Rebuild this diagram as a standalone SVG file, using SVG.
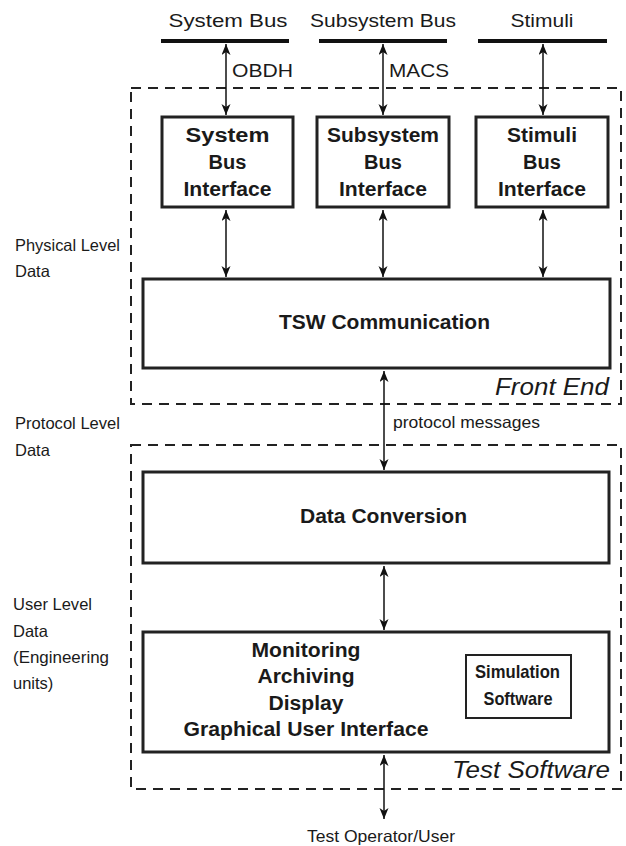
<svg xmlns="http://www.w3.org/2000/svg" width="626" height="846" viewBox="0 0 626 846">
<style>
  text { font-family: "Liberation Sans", Arial, sans-serif; fill: #1a1a1a; }
  .bus { stroke: #111; stroke-width: 4; }
  .lbl { font-size: 18.5px; }
  .side { font-size: 16.5px; }
  .small { font-size: 16.5px; }
  .b { font-size: 20px; font-weight: bold; text-anchor: middle; }
  .sim { font-size: 18.5px; font-weight: bold; text-anchor: middle; }
  .it { font-size: 23px; font-style: italic; text-anchor: end; }
  .mid { text-anchor: middle; }
  .box { fill: none; stroke: #222; stroke-width: 3; }
  .dash { fill: none; stroke: #222; stroke-width: 2; stroke-dasharray: 10 7; }
  .arr { stroke: #111; stroke-width: 1.5; fill: none; marker-start: url(#ah); marker-end: url(#ah); }
</style>
<defs>
  <marker id="ah" markerUnits="userSpaceOnUse" markerWidth="12" markerHeight="10" refX="11" refY="4.5" orient="auto-start-reverse">
    <path d="M0,0 L11,4.5 L0,9 L3,4.5 z" fill="#111"/>
  </marker>
</defs>

<g id="buses">
  <line class="bus" x1="161" y1="41" x2="289" y2="41"/>
  <line class="bus" x1="319" y1="41" x2="447" y2="41"/>
  <line class="bus" x1="478" y1="41" x2="607" y2="41"/>
  <text class="lbl mid" x="228" y="27" textLength="119" lengthAdjust="spacingAndGlyphs">System Bus</text>
  <text class="lbl mid" x="383" y="27" textLength="146" lengthAdjust="spacingAndGlyphs">Subsystem Bus</text>
  <text class="lbl mid" x="542" y="27" textLength="63" lengthAdjust="spacingAndGlyphs">Stimuli</text>
</g>

<g id="front-end">
  <rect class="dash" x="131" y="88" width="490" height="316"/>
  <text class="it" x="609" y="395" textLength="114" lengthAdjust="spacingAndGlyphs">Front End</text>
</g>

<g id="test-software">
  <rect class="dash" x="131" y="445" width="490" height="344"/>
  <text class="it" x="610" y="778" textLength="158" lengthAdjust="spacingAndGlyphs">Test Software</text>
</g>

<g id="system-bus-interface">
  <rect class="box" x="162" y="117" width="131" height="90"/>
  <text class="b" x="227.5" y="142" textLength="84" lengthAdjust="spacingAndGlyphs">System</text>
  <text class="b" x="227.5" y="169">Bus</text>
  <text class="b" x="227.5" y="196" textLength="88" lengthAdjust="spacingAndGlyphs">Interface</text>
</g>

<g id="subsystem-bus-interface">
  <rect class="box" x="317" y="117" width="132" height="90"/>
  <text class="b" x="383" y="142" textLength="112" lengthAdjust="spacingAndGlyphs">Subsystem</text>
  <text class="b" x="383" y="169">Bus</text>
  <text class="b" x="383" y="196" textLength="88" lengthAdjust="spacingAndGlyphs">Interface</text>
</g>

<g id="stimuli-bus-interface">
  <rect class="box" x="476" y="117" width="132" height="90"/>
  <text class="b" x="542" y="142" textLength="70" lengthAdjust="spacingAndGlyphs">Stimuli</text>
  <text class="b" x="542" y="169">Bus</text>
  <text class="b" x="542" y="196" textLength="88" lengthAdjust="spacingAndGlyphs">Interface</text>
</g>

<g id="tsw-communication">
  <rect class="box" x="143" y="279" width="467" height="89"/>
  <text class="b" x="384.5" y="329" textLength="211" lengthAdjust="spacingAndGlyphs">TSW Communication</text>
</g>

<g id="data-conversion">
  <rect class="box" x="143" y="472" width="466" height="91"/>
  <text class="b" x="383.5" y="523" textLength="167" lengthAdjust="spacingAndGlyphs">Data Conversion</text>
</g>

<g id="user-interface">
  <rect class="box" x="143" y="632" width="466" height="120"/>
  <text class="b" x="306" y="657" textLength="109" lengthAdjust="spacingAndGlyphs">Monitoring</text>
  <text class="b" x="306" y="683" textLength="97" lengthAdjust="spacingAndGlyphs">Archiving</text>
  <text class="b" x="306" y="710" textLength="75" lengthAdjust="spacingAndGlyphs">Display</text>
  <text class="b" x="306" y="736" textLength="245" lengthAdjust="spacingAndGlyphs">Graphical User Interface</text>
</g>

<g id="simulation-software">
  <rect fill="none" stroke="#222" stroke-width="2" x="466" y="655" width="105" height="63"/>
  <text class="sim" x="517.5" y="678" textLength="85" lengthAdjust="spacingAndGlyphs">Simulation</text>
  <text class="sim" x="518" y="705" textLength="69" lengthAdjust="spacingAndGlyphs">Software</text>
</g>

<g id="side-labels">
  <text class="side" x="15" y="251" textLength="105" lengthAdjust="spacingAndGlyphs">Physical Level</text>
  <text class="side" x="15" y="277">Data</text>
  <text class="side" x="15" y="429" textLength="105" lengthAdjust="spacingAndGlyphs">Protocol Level</text>
  <text class="side" x="15" y="456">Data</text>
  <text class="side" x="13" y="610" textLength="79" lengthAdjust="spacingAndGlyphs">User Level</text>
  <text class="side" x="13" y="637">Data</text>
  <text class="side" x="13" y="663" textLength="96" lengthAdjust="spacingAndGlyphs">(Engineering</text>
  <text class="side" x="13" y="689">units)</text>
</g>

<g id="connectors">
  <line class="arr" x1="226" y1="44" x2="226" y2="115"/>
  <line class="arr" x1="383" y1="44" x2="383" y2="115"/>
  <line class="arr" x1="543" y1="44" x2="543" y2="115"/>
  <line class="arr" x1="226" y1="210" x2="226" y2="277"/>
  <line class="arr" x1="383" y1="210" x2="383" y2="277"/>
  <line class="arr" x1="543" y1="210" x2="543" y2="277"/>
  <line class="arr" x1="384" y1="371" x2="384" y2="470"/>
  <line class="arr" x1="384" y1="566" x2="384" y2="630"/>
  <line class="arr" x1="384" y1="755" x2="384" y2="819"/>
  <text class="lbl" x="232" y="77" textLength="61" lengthAdjust="spacingAndGlyphs">OBDH</text>
  <text class="lbl" x="389" y="77" textLength="60" lengthAdjust="spacingAndGlyphs">MACS</text>
  <text class="small" x="393" y="428" textLength="147" lengthAdjust="spacingAndGlyphs">protocol  messages</text>
  <text class="small mid" x="381" y="842" textLength="148" lengthAdjust="spacingAndGlyphs">Test Operator/User</text>
</g>
</svg>
